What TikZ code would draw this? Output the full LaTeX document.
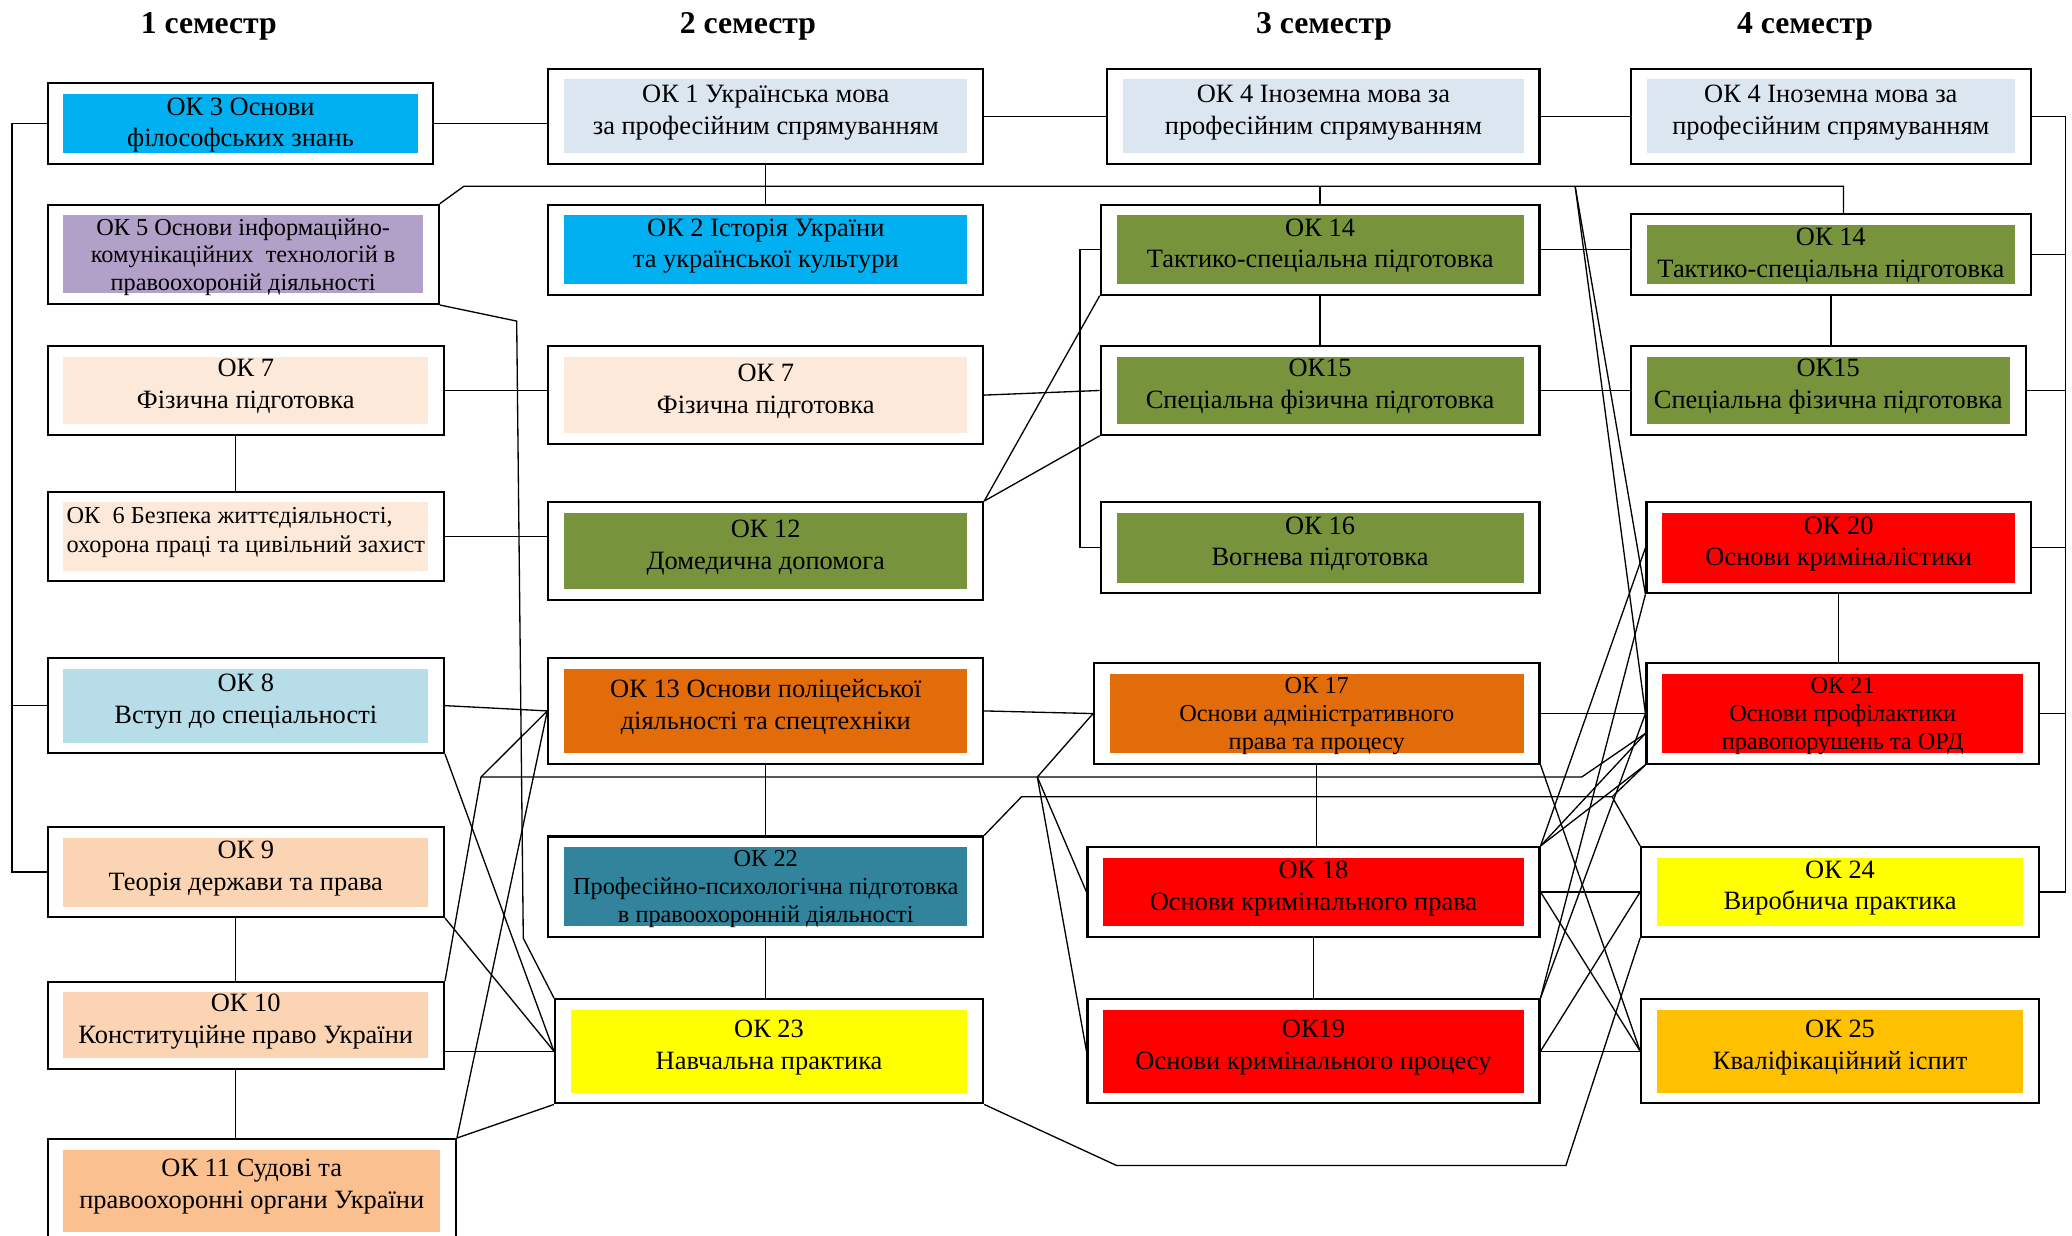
\documentclass[tikz,border=0pt]{standalone}
\usepackage{fontspec}
\setmainfont{Liberation Serif}
\usetikzlibrary{positioning}
\definecolor{okblue}{RGB}{0,176,240}
\definecolor{oklilac}{RGB}{177,160,199}
\definecolor{okpeach}{RGB}{253,233,217}
\definecolor{oklight}{RGB}{183,222,232}
\definecolor{oktan}{RGB}{251,212,180}
\definecolor{oksand}{RGB}{250,192,144}
\definecolor{oklang}{RGB}{220,230,241}
\definecolor{okgreen}{RGB}{119,147,60}
\definecolor{okrust}{RGB}{226,107,10}
\definecolor{okteal}{RGB}{49,132,155}
\definecolor{okyellow}{RGB}{255,255,0}
\definecolor{okred}{RGB}{255,0,0}
\definecolor{okgold}{RGB}{255,192,0}
\tikzset{
    subj/.style = {rectangle, draw=black, line width=0.8pt, fill=white, inner sep=0pt, align=center,
        text depth=5pt, font=\fontsize{10}{12}\selectfont,
        path picture={\fill[#1] ([shift={(6pt,-4pt)}]path picture bounding box.north west)
            rectangle ([shift={(-6pt,4pt)}]path picture bounding box.south east);}},
    subjs/.style = {subj=#1, text depth=0pt, font=\fontsize{9.2}{10.5}\selectfont},
    sem/.style = {font=\bfseries\fontsize{12}{14}\selectfont},
    link/.style = {line width=0.5pt},
}
\begin{document}
\begin{tikzpicture}[x=0.5pt,y=-0.5pt]
\clip (0,0) rectangle (1568,935);
\node[sem] (s1) at (158,20) {1 семестр};
\node[sem] (s2) at (566,20) {2 семестр};
\node[sem] (s3) at (1002,20) {3 семестр};
\node[sem] (s4) at (1366,20) {4 семестр};
%
\node[subj=okblue, minimum width=146pt, minimum height=30.5pt, text depth=1pt] (ok3) at (182,93.5) {ОК 3 Основи\\філософських знань};
\node[subjs=oklilac, minimum width=148pt, minimum height=37.5pt] (ok5) at (184,192.5) {ОК 5 Основи інформаційно-\\комунікаційних \ технологій в\\правоохороній діяльності};
\node[subj=okpeach, minimum width=150pt, minimum height=33.5pt] (ok7a) at (186,295.5) {ОК 7\\Фізична підготовка};
\node[subj=okpeach, minimum width=150pt, minimum height=34pt, align=left, font=\fontsize{9.2}{11}\selectfont] (ok6) at (186,406) {ОК \ 6 Безпека життєдіяльності,\\охорона праці та цивільний захист};
\node[subj=oklight, minimum width=150pt, minimum height=36pt] (ok8) at (186,534) {ОК 8\\Вступ до спеціальності};
\node[subj=oktan, minimum width=150pt, minimum height=34pt] (ok9) at (186,660) {ОК 9\\Теорія держави та права};
\node[subj=oktan, minimum width=150pt, minimum height=33pt] (ok10) at (186,776) {ОК 10\\Конституційне право України};
\node[subj=oksand, minimum width=154.5pt, minimum height=39pt] (ok11) at (190.5,901) {ОК 11 Судові та\\правоохоронні органи України};
%
\node[subj=oklang, minimum width=164.5pt, minimum height=36pt] (ok1) at (579.5,88) {ОК 1 Українська мова\\за професійним спрямуванням};
\node[subj=okblue, minimum width=164.5pt, minimum height=34pt] (ok2) at (579.5,189) {ОК 2 Історія України\\та української культури};
\node[subj=okpeach, minimum width=164.5pt, minimum height=37pt] (ok7b) at (579.5,299) {ОК 7\\Фізична підготовка};
\node[subj=okgreen, minimum width=164.5pt, minimum height=37pt] (ok12) at (579.5,417) {ОК 12\\Домедична допомога};
\node[subj=okrust, minimum width=164.5pt, minimum height=40pt] (ok13) at (579.5,538) {ОК 13 Основи поліцейської\\діяльності та спецтехніки};
\node[subjs=okteal, minimum width=164.5pt, minimum height=38pt] (ok22) at (579.5,671) {ОК 22\\Професійно-психологічна підготовка\\в правоохоронній діяльності};
\node[subj=okyellow, minimum width=162pt, minimum height=39.5pt] (ok23) at (582,795.5) {ОК 23\\Навчальна практика};
%
\node[subj=oklang, minimum width=163.5pt, minimum height=36pt] (ok4a) at (1001.5,88) {ОК 4 Іноземна мова за\\професійним спрямуванням};
\node[subj=okgreen, minimum width=166pt, minimum height=34pt] (ok14a) at (999,189) {ОК 14\\Тактико-спеціальна підготовка};
\node[subj=okgreen, minimum width=166pt, minimum height=33.5pt] (ok15a) at (999,295.5) {ОК15\\Спеціальна фізична підготовка};
\node[subj=okgreen, minimum width=166pt, minimum height=34.5pt] (ok16) at (999,414.5) {ОК 16\\Вогнева підготовка};
\node[subjs=okrust, minimum width=168.5pt, minimum height=38pt] (ok17) at (996.5,540) {ОК 17\\Основи адміністративного\\права та процесу};
\node[subj=okred, minimum width=171pt, minimum height=34pt] (ok18) at (994,675) {ОК 18\\Основи кримінального права};
\node[subj=okred, minimum width=171pt, minimum height=39.5pt] (ok19) at (994,795.5) {ОК19\\Основи кримінального процесу};
%
\node[subj=oklang, minimum width=151.5pt, minimum height=36pt] (ok4b) at (1385.5,88) {ОК 4 Іноземна мова за\\професійним спрямуванням};
\node[subj=okgreen, minimum width=151.5pt, minimum height=30.5pt, text depth=1pt] (ok14b) at (1385.5,192.5) {ОК 14\\Тактико-спеціальна підготовка};
\node[subj=okgreen, minimum width=149.5pt, minimum height=33.5pt] (ok15b) at (1383.5,295.5) {ОК15\\Спеціальна фізична підготовка};
\node[subj=okred, minimum width=145.5pt, minimum height=34.5pt] (ok20) at (1391.5,414.5) {ОК 20\\Основи криміналістики};
\node[subjs=okred, minimum width=148.5pt, minimum height=38pt] (ok21) at (1394.5,540) {ОК 21\\Основи профілактики\\правопорушень та ОРД};
\node[subj=okyellow, minimum width=150.5pt, minimum height=34pt] (ok24) at (1392.5,675) {ОК 24\\Виробнича практика};
\node[subj=okgold, minimum width=150.5pt, minimum height=39.5pt] (ok25) at (1392.5,795.5) {ОК 25\\Кваліфікаційний іспит};
%
\coordinate (rb) at (1563,88);
\coordinate (t0) at (351,141);
\coordinate (t1) at (1192,141);
\coordinate (t2) at (1395,141);
\coordinate (j2) at (364,588);
\coordinate (j3) at (785,588);
\coordinate (j4) at (1220,603);
%
\draw[link] (ok3.east) -- (ok3.east -| ok1.west);
\draw[link] (ok1.east) -- (ok4a.west);
\draw[link] (ok4a.east) -- (ok4b.west);
\draw[link] (ok3.west) -- ++(-26,0) |- (ok9.west);
\draw[link] (ok8.west) -- ++(-26,0);
\draw[link] (ok4b.east) -- (rb) |- (ok24.east);
\foreach \n in {ok14b,ok15b,ok20,ok21}
    \draw[link] (\n.east) -- (\n.east -| rb);
\draw[link] (ok1.south) -- (ok2.north);
\draw[link] (ok5.north east) -- (t0) -- (t2) -- (t2 |- ok14b.north);
\draw[link] (ok14a.north |- t0) -- (ok14a.north);
\draw[link] (t1) -- (ok20.south west);
\draw[link] (t1) -- (ok21.west);
\draw[link] (ok5.south east) -- (391,243) -- (396,710) -- (ok23.north west);
\draw[link] (ok7a.east) -- (ok7a.east -| ok7b.west);
\draw[link] ([xshift=-4pt]ok7a.south) -- ([xshift=-4pt]ok7a.south |- ok6.north);
\draw[link] (ok6.east) -- (ok6.east -| ok12.west);
\draw[link] (ok7b.east) -- (ok15a.west);
\draw[link] (ok12.north east) -- (ok14a.south west);
\draw[link] (ok12.north east) -- (ok15a.south west);
\draw[link] (ok14a.west) -- ++(-15,0) |- (ok16.west);
\draw[link] (ok14a.south) -- (ok15a.north);
\draw[link] (ok14a.east) -- (ok14a.east -| ok14b.west);
\draw[link] (ok15a.east) -- (ok15b.west);
\draw[link] (ok14b.south) -- (ok14b.south |- ok15b.north);
\draw[link] (ok20.south) -- (ok20.south |- ok21.north);
%
\draw[link] (ok8.east) -- (ok13.west);
\draw[link] (ok8.south east) -- (ok23.west);
\draw[link] (ok9.south east) -- (ok23.west);
\draw[link] (ok23.west -| ok10.east) -- (ok23.west);
\draw[link] ([xshift=-4pt]ok9.south) -- ([xshift=-4pt]ok9.south |- ok10.north);
\draw[link] ([xshift=-4pt]ok10.south) -- ([xshift=-4pt]ok10.south |- ok11.north);
\draw[link] (ok10.north east) -- (j2) -- (ok13.west);
\draw[link] (j2) -- (1197,588) -- ([yshift=-7.5pt]ok21.west);
\draw[link] (ok11.north east) -- (ok13.west);
\draw[link] (ok11.north east) -- (ok23.south west);
\draw[link] (ok13.south) -- (ok22.north);
\draw[link] (ok22.south) -- (ok22.south |- ok23.north);
\draw[link] (ok22.north east) -- (773,603) -- (j4) -- (ok21.south west);
\draw[link] (j4) -- (ok24.north west);
\draw[link] (ok23.south east) -- (845,882) -- (1185,882) -- (ok24.south west);
%
\draw[link] (ok13.east) -- (ok17.west);
\draw[link] (j3) -- (ok17.west);
\draw[link] (j3) -- (ok18.west);
\draw[link] (j3) -- (ok19.west);
\draw[link] (ok17.south) -- (ok17.south |- ok18.north);
\draw[link] (ok18.south) -- (ok19.north);
\draw[link] (ok17.east) -- (ok21.west);
\draw[link] (ok17.south east) -- (ok25.west);
\draw[link] (ok18.east) -- (ok24.west);
\draw[link] (ok18.east) -- (ok25.west);
\draw[link] (ok19.east) -- (ok24.west);
\draw[link] (ok19.east) -- (ok25.west);
\draw[link] (ok18.north east) -- (ok20.west);
\draw[link] (ok18.north east) -- ([yshift=-7.5pt]ok21.west);
\draw[link] (ok18.north east) -- (ok21.south west);
\draw[link] (ok19.north east) -- (ok20.south west);
\draw[link] (ok19.north east) -- (ok21.west);
\end{tikzpicture}
\end{document}
